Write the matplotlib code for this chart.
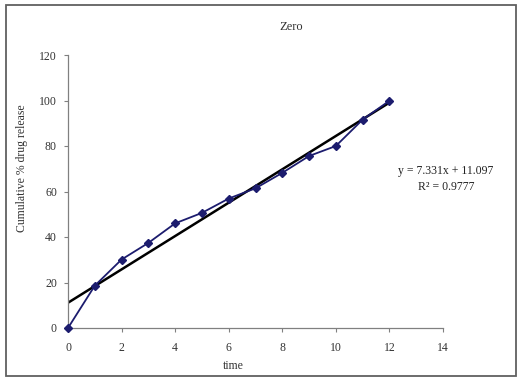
import numpy as np
import matplotlib
matplotlib.use('Agg')
import matplotlib.pyplot as plt
from matplotlib.patches import Rectangle

plt.rcParams['font.family'] = ['Liberation Serif', 'DejaVu Serif']

# data
time = np.array([0, 1, 2, 3, 4, 5, 6, 7, 8, 9, 10, 11, 12])
release = np.array([0, 18.6, 30.1, 37.4, 46.0, 50.6, 56.9, 61.4, 68.2, 75.6, 80.0, 91.6, 99.9])
slope = 7.331
intercept = 11.097
r2 = 0.9777
x_ticks = [0, 2, 4, 6, 8, 10, 12, 14]
y_ticks = [0, 20, 40, 60, 80, 100, 120]

W, H = 518, 385
fig = plt.figure(figsize=(W / 100, H / 100), dpi=100)
fig.patch.set_facecolor('white')

# outer gray frame
fig.patches.append(Rectangle((6 / W, 1 - 376 / H), 510 / W, 371 / H, transform=fig.transFigure,
                             fill=False, edgecolor='#606060', linewidth=1.3))

ax = fig.add_axes([68 / W, 1 - 328 / H, (443 - 68) / W, (328 - 55) / H])
ax.plot(time, release, color='#1c1c6e', marker='D', markersize=4.5, linewidth=1.3, zorder=3,
        clip_on=False)
xt = np.array([time[0], time[-1]])
ax.plot(xt, slope * xt + intercept, color='black', linewidth=1.8, zorder=2)

ax.set_xlim(0, 14)
ax.set_ylim(0, 120)
ax.set_xticks(x_ticks)
ax.set_yticks(y_ticks)
ax.tick_params(axis='x', direction='out', length=3, width=0.8, color='#808080', labelsize=8.5, pad=7)
ax.tick_params(axis='y', direction='out', length=3, width=0.8, color='#808080', labelsize=8.5, pad=5)
for s in ['top', 'right']:
    ax.spines[s].set_visible(False)
for s in ['left', 'bottom']:
    ax.spines[s].set_color('#808080')
    ax.spines[s].set_linewidth(0.9)
for lab in ax.get_xticklabels() + ax.get_yticklabels():
    lab.set_color('#333333')

fig.text(291 / W, 1 - 27 / H, 'Zero', ha='center', va='center', fontsize=9, color='#333333')
fig.text(233 / W, 1 - 366 / H, 'time', ha='center', va='center', fontsize=8.5, color='#333333')
fig.text(22 / W, 1 - 168 / H, 'Cumulative % drug release', ha='center', va='center',
         rotation=90, fontsize=8.5, color='#333333')
fig.text(446 / W, 1 - 171 / H, 'y = %.3fx + %.3f' % (slope, intercept), ha='center', va='center',
         fontsize=8.5, color='#222222')
fig.text(446 / W, 1 - 187 / H, 'R² = %.4f' % r2, ha='center', va='center',
         fontsize=8.5, color='#222222')

fig.savefig('out.png', dpi=100)
